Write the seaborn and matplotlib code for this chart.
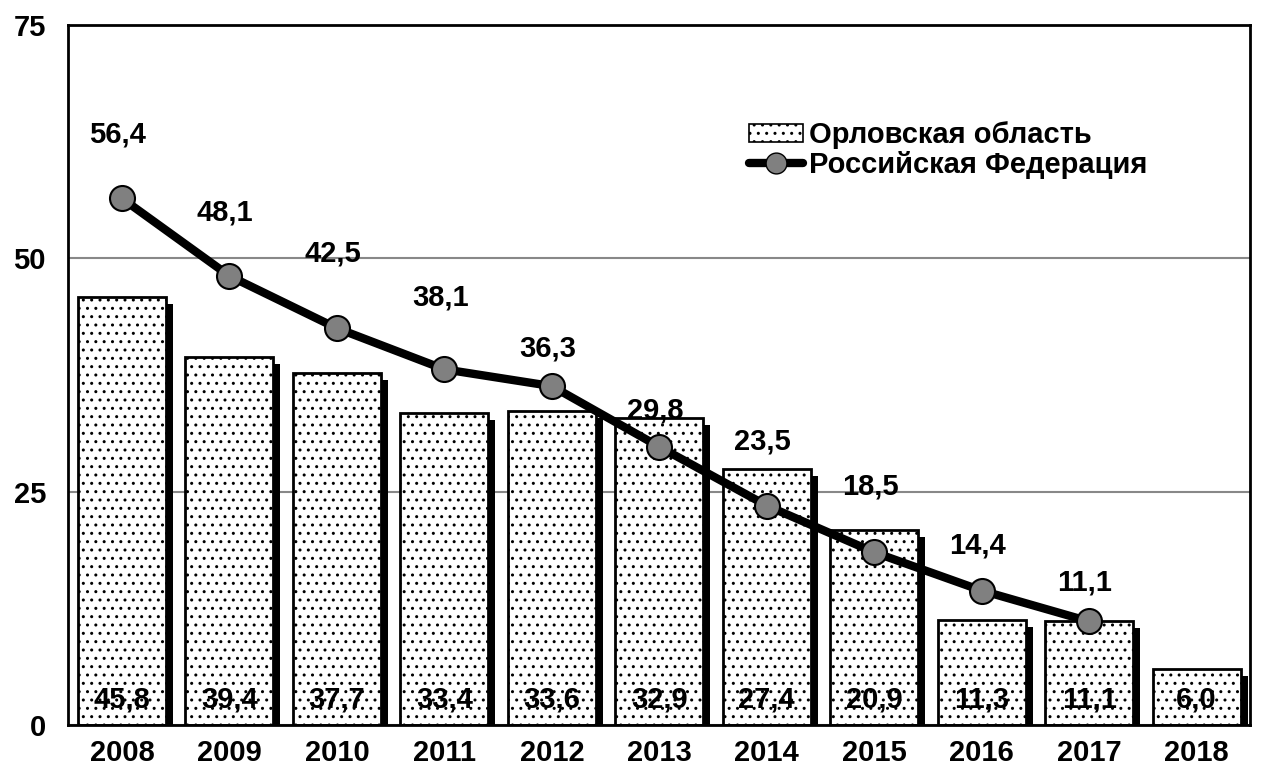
import seaborn as sns
import pandas as pd
import matplotlib.pyplot as plt
import matplotlib.patheffects as pe
from matplotlib.patches import Patch
from matplotlib.lines import Line2D

years = ['2008', '2009', '2010', '2011', '2012', '2013', '2014', '2015', '2016', '2017', '2018']
orel = [45.8, 39.4, 37.7, 33.4, 33.6, 32.9, 27.4, 20.9, 11.3, 11.1, 6.0]
russia = [56.4, 48.1, 42.5, 38.1, 36.3, 29.8, 23.5, 18.5, 14.4, 11.1]
# label lift above the points, in pixels
lift = [64, 63, 75, 72, 38, 36, 64, 66, 45, 39]

sns.set_style('white')
plt.rcParams['font.family'] = ['Liberation Sans', 'DejaVu Sans']
plt.rcParams['font.weight'] = 'bold'
plt.rcParams['text.color'] = 'black'
plt.rcParams['xtick.color'] = 'black'
plt.rcParams['ytick.color'] = 'black'
plt.rcParams['hatch.color'] = '#707070'
plt.rcParams['hatch.linewidth'] = 1.0

FS = 21

df_bar = pd.DataFrame({'year': years, 'value': orel})
df_line = pd.DataFrame({'year': years[:len(russia)], 'value': russia})

fig = plt.figure(figsize=(12.63, 7.73), dpi=100)
ax = fig.add_axes([0.054, 0.062, 0.936, 0.906])

sns.barplot(data=df_bar, x='year', y='value', order=years, color='white',
            width=0.82, edgecolor='black', linewidth=2, hatch='..', ax=ax, zorder=2)
for p in ax.patches:
    p.set_path_effects([pe.SimplePatchShadow(offset=(5, -5), shadow_rgbFace='black', alpha=1),
                        pe.Normal()])

for i, v in enumerate(orel):
    ax.text(i, 2.7, f'{v:.1f}'.replace('.', ','), ha='center', va='center',
            fontsize=FS, fontweight='bold', zorder=5)

sns.pointplot(data=df_line, x='year', y='value', order=years, color='black',
              markers='o', linewidth=6, markersize=18, markerfacecolor='#808080',
              markeredgecolor='black', markeredgewidth=1.5, ax=ax, zorder=4)

for i, v in enumerate(russia):
    ax.annotate(f'{v:.1f}'.replace('.', ','), (i, v), xytext=(-3, lift[i] * 0.72),
                textcoords='offset points', ha='center', va='center',
                fontsize=FS, fontweight='bold', zorder=5)

ax.set_ylim(0, 75)
ax.set_xlim(-0.5, len(years) - 0.5)
ax.set_yticks([0, 25, 50, 75])
ax.yaxis.grid(True, color='#888888', linewidth=1.5)
ax.set_axisbelow(True)
ax.set_xlabel('')
ax.set_ylabel('')
ax.set_xticks(range(len(years)))
ax.set_xticklabels(years)
ax.set_xticks([i - 0.5 for i in range(len(years) + 1)], minor=True)
ax.tick_params(axis='x', which='major', length=0, labelsize=FS, pad=10)
ax.tick_params(axis='x', which='minor', length=7, width=1.2, direction='out')
ax.tick_params(axis='y', length=7, width=1.2, direction='out', labelsize=FS, pad=9)
for lab in ax.get_xticklabels() + ax.get_yticklabels():
    lab.set_fontweight('bold')
for s in ax.spines.values():
    s.set_color('black')
    s.set_linewidth(2)

handles = [Patch(facecolor='white', edgecolor='black', hatch='..', linewidth=1.2),
           Line2D([], [], color='black', linewidth=6, marker='o', markersize=15,
                  markerfacecolor='#808080', markeredgecolor='black')]
ax.legend(handles, ['Орловская область', 'Российская Федерация'], loc='upper left',
          bbox_to_anchor=(0.566, 0.879), frameon=False, prop={'size': FS, 'weight': 'bold'},
          handlelength=1.85, handleheight=0.6, handletextpad=0.2, labelspacing=0.05,
          borderaxespad=0)

fig.savefig('out.png', dpi=100)
